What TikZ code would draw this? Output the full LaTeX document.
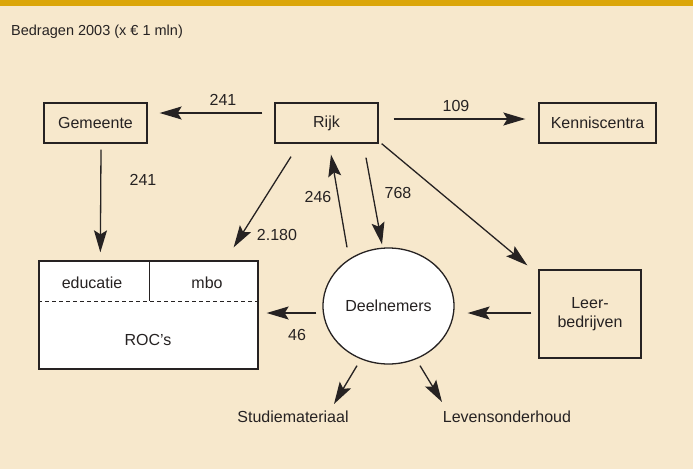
\documentclass[tikz,border=0pt]{standalone}
\usepackage{fontspec}
\setmainfont{Liberation Sans}
\usetikzlibrary{arrows.meta,shapes.geometric}
\definecolor{cream}{RGB}{247,232,204}
\definecolor{gold}{RGB}{219,166,10}
\definecolor{ink}{RGB}{38,34,34}
\tikzset{
  box/.style={draw=ink,line width=1.3pt,rectangle,inner sep=0pt,text=ink},
  lbl/.style={text=ink,inner sep=0pt,font=\fontsize{16}{19}\selectfont},
  flow/.style={draw=ink,line width=1.3pt,-{Stealth[length=22pt,width=13pt,inset=4pt]}}
}
\begin{document}
\begin{tikzpicture}[x=1pt,y=-1pt,font=\fontsize{16}{19}\selectfont]
\useasboundingbox (0,0) rectangle (699,469);
\fill[cream] (0,0) rectangle (693,469);
\fill[gold] (0,0) rectangle (693,6);
\node[lbl,anchor=west,font=\fontsize{14.5}{17}\selectfont] (title) at (11,32) {Bedragen 2003 (x € 1 mln)};

% boxes
\node[box,minimum width=103pt,minimum height=40pt] (gem) at (95.5,123) {Gemeente};
\node[box,minimum width=103pt,minimum height=40pt] (rijk) at (326.5,123) {Rijk};
\node[box,minimum width=117pt,minimum height=40pt] (kenn) at (597.5,123) {Kenniscentra};
\node[box,fill=white,minimum width=219pt,minimum height=108pt] (roc) at (148.5,315) {};
\draw[ink,line width=1.3pt] ([xshift=111pt]roc.north west) -- ([xshift=111pt,yshift=-41pt]roc.north west);
\draw[ink,line width=1.3pt,dash pattern=on 4pt off 3pt] ([yshift=-41pt]roc.north west) -- ([yshift=-41pt]roc.north east);
\node[lbl] (edu) at (92,283) {educatie};
\node[lbl] (mbo) at (207,283) {mbo};
\node[lbl] (rocs) at (148,340) {ROC’s};
\node[box,minimum width=102pt,minimum height=88pt,align=center] (leer) at (590,314) {Leer-\\bedrijven};
\node[draw=ink,line width=1.3pt,ellipse,fill=white,minimum width=131pt,minimum height=116pt,inner sep=0pt,text=ink] (deel) at (388.5,306) {Deelnemers};
\node[lbl] (studie) at (293,417) {Studiemateriaal};
\node[lbl] (lev) at (507,417) {Levensonderhoud};

% connectors
\draw[flow] ([xshift=-12pt,yshift=10pt]rijk.west) -- ([xshift=12pt,yshift=10pt]gem.east);
\draw[flow] ([xshift=15pt,yshift=4pt]rijk.east) -- ([xshift=-13pt,yshift=4pt]kenn.west);
\draw[flow] ([xshift=5.5pt,yshift=-6pt]gem.south) -- ([xshift=62pt,yshift=8pt]roc.north west);
\draw[flow] ([xshift=-35.5pt,yshift=-13pt]rijk.south) -- ([xshift=-25pt,yshift=13pt]roc.north east);
\draw[flow] ([xshift=-41.5pt]deel.north) -- ([xshift=4.5pt,yshift=-11pt]rijk.south);
\draw[flow] ([xshift=39.5pt,yshift=-14pt]rijk.south) -- ([xshift=-6.5pt,yshift=3pt]deel.north);
\draw[flow] ([xshift=3pt]rijk.south east) -- ([xshift=-11pt,yshift=4pt]leer.north west);
\draw[flow] ([xshift=-7pt,yshift=1pt]leer.west) -- ([xshift=13pt,yshift=-7pt]deel.east);
\draw[flow] ([xshift=-6pt,yshift=-7pt]deel.west) -- ([xshift=8pt,yshift=2pt]roc.east);
\draw[flow] ([xshift=-31.5pt,yshift=-1pt]deel.south) -- ([xshift=41pt,yshift=13pt]studie.center);
\draw[flow] ([xshift=31.5pt,yshift=-1pt]deel.south) -- ([xshift=-65pt,yshift=15pt]lev.center);

% labels
\node[lbl] (l1) at (223,100) {241};
\node[lbl] (l2) at (456,106) {109};
\node[lbl] (l3) at (143,180) {241};
\node[lbl] (l4) at (277,235) {2.180};
\node[lbl] (l5) at (318,197) {246};
\node[lbl] (l6) at (398,193) {768};
\node[lbl] (l7) at (297,335) {46};
\end{tikzpicture}
\end{document}
